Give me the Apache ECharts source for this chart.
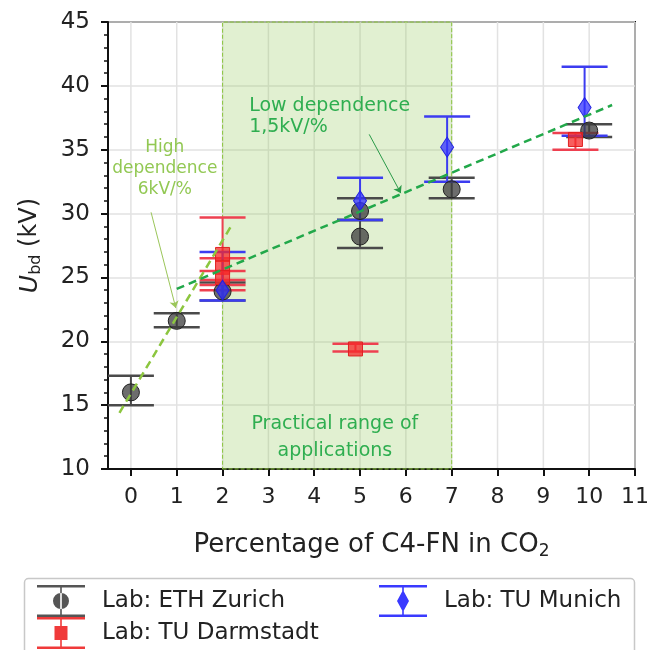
<!DOCTYPE html>
<html>
<head>
<meta charset="utf-8">
<script src="https://cdn.jsdelivr.net/npm/echarts@6/dist/echarts.min.js"></script>
<style>
	html,body{margin:0;padding:0;background:#fff;}
	#main{width:652px;height:650px;}
</style>
</head>
<body>
<div id="main"></div>
<script>
// x ticks
var xTicks = [0, 1, 2, 3, 4, 5, 6, 7, 8, 9, 10, 11];

// ETH Zurich: x, value, lower end, upper end of error bar
var ethX  = [0, 1, 2, 5, 5, 7, 10];
var ethY  = [16.0, 21.6, 23.9, 30.2, 28.2, 31.9, 36.5];
var ethLo = [15.0, 21.1, 23.2, 29.5, 27.3, 31.2, 36.0];
var ethHi = [17.3, 22.2, 24.6, 31.2, 29.5, 32.8, 37.0];

// TU Darmstadt
var darmX  = [2, 2, 2, 4.9, 9.7];
var darmY  = [26.8, 25.8, 25.0, 19.4, 35.8];
var darmLo = [24.8, 24.4, 24.0, 19.2, 35.0];
var darmHi = [29.7, 26.5, 25.5, 19.8, 36.3];

// TU Munich
var munX  = [2, 5, 6.9, 9.9];
var munY  = [24.0, 31.0, 35.2, 38.3];
var munLo = [23.2, 29.5, 32.5, 36.1];
var munHi = [27.0, 32.8, 37.6, 41.5];

// fitted lines
var highFitX = [-0.25, 2.2];
var highFitY = [14.4, 29.1];
var lowFitX  = [1.0, 10.5];
var lowFitY  = [24.1, 38.5];

// practical range
var rangeX = [2, 7];

var FONT = '"DejaVu Sans", sans-serif';

function pts(xs, ys){
	var out = [];
	for (var i = 0; i < xs.length; i++) out.push([xs[i], ys[i]]);
	return out;
}
function bars(xs, lo, hi){
	var out = [];
	for (var i = 0; i < xs.length; i++) out.push([xs[i], lo[i], hi[i]]);
	return out;
}

// error bar drawing (vertical stem + two caps)
function errRender(color){
	return function(params, api){
		var x = api.value(0);
		var pLo = api.coord([x, api.value(1)]);
		var pHi = api.coord([x, api.value(2)]);
		var w = 23;
		var st = {stroke: color, lineWidth: 2.5};
		return {
			type: 'group',
			children: [
				{type: 'line', shape: {x1: pLo[0], y1: pLo[1], x2: pHi[0], y2: pHi[1]}, style: {stroke: color, lineWidth: 2}},
				{type: 'line', shape: {x1: pHi[0] - w, y1: pHi[1], x2: pHi[0] + w, y2: pHi[1]}, style: st},
				{type: 'line', shape: {x1: pLo[0] - w, y1: pLo[1], x2: pLo[0] + w, y2: pLo[1]}, style: st}
			]
		};
	};
}

// vertical grid lines at the x ticks
function gridRender(params, api){
	var top = api.coord([api.value(0), 45]);
	var bot = api.coord([api.value(0), 10]);
	return {type: 'line', shape: {x1: top[0], y1: top[1], x2: bot[0], y2: bot[1]}, style: {stroke: '#e2e2e2', lineWidth: 1.5}};
}

var capPath = 'M0,0H48V2.5H0Z M0,29.5H48V32H0Z M23.2,0H24.8V32H23.2Z ';
var iconEth = 'path://' + capPath + 'M16,16A8,8 0 1,0 32,16A8,8 0 1,0 16,16Z';
var iconDarm = 'path://' + capPath + 'M17.5,9H30.5V23H17.5Z';
var iconMun = 'path://' + capPath + 'M24,5L30,16L24,27L18,16Z';

var ETH = 'Lab: ETH Zurich', DARM = 'Lab: TU Darmstadt', MUN = 'Lab: TU Munich';

function legendOne(name, icon, color, left, top){
	return {
		left: left, top: top, itemWidth: 48, itemHeight: 32, selectedMode: false,
		textStyle: {fontSize: 23, color: '#222', fontFamily: FONT, padding: [0, 0, 0, 12]},
		data: [{name: name, icon: icon, itemStyle: {color: color}}]
	};
}

var myChart = echarts.init(document.getElementById('main'));
myChart.setOption({
	animation: false,
	backgroundColor: '#fff',
	grid: {left: 108, right: 16, top: 22, bottom: 181, show: true, borderColor: '#111', borderWidth: 2, backgroundColor: 'transparent'},
	legend: [
		legendOne(ETH, iconEth, '#555', 32, 580),
		legendOne(DARM, iconDarm, '#f03a3a', 32, 612),
		legendOne(MUN, iconMun, '#3a3aff', 374, 580)
	],
	graphic: [{
		type: 'rect', left: 22, top: 576, shape: {width: 610, height: 90, r: 4},
		style: {fill: 'none', stroke: '#c8c8c8', lineWidth: 1.5}, silent: true
	}],
	xAxis: {
		type: 'value', min: -0.5, max: 11,
		name: 'Percentage of C4-FN in CO{s|2}', nameLocation: 'middle', nameGap: 61,
		nameTextStyle: {fontSize: 26, color: '#222', fontFamily: FONT,
			rich: {s: {fontSize: 17, color: '#222', fontFamily: FONT, verticalAlign: 'bottom', padding: [13, 0, 0, 0]}}},
		axisLine: {show: true, onZero: false, lineStyle: {color: '#111', width: 2}},
		axisTick: {show: true, length: 7, lineStyle: {color: '#111', width: 2}, customValues: xTicks},
		axisLabel: {fontSize: 22, color: '#222', fontFamily: FONT, margin: 17, customValues: xTicks},
		splitLine: {show: false}
	},
	yAxis: {
		type: 'value', min: 10, max: 45, interval: 5,
		name: '{u|U}{s|bd} (kV)', nameLocation: 'middle', nameGap: 64, nameRotate: 90,
		nameTextStyle: {fontSize: 24, color: '#222', fontFamily: FONT,
			rich: {
				u: {fontSize: 25, fontStyle: 'italic', color: '#222', fontFamily: FONT},
				s: {fontSize: 16, color: '#222', fontFamily: FONT, verticalAlign: 'bottom', padding: [12, 0, 0, 0]}
			}},
		axisLine: {show: true, onZero: false, lineStyle: {color: '#111', width: 2}},
		axisTick: {show: true, length: 7, lineStyle: {color: '#111', width: 2}},
		minorTick: {show: true, splitNumber: 5, length: 4, lineStyle: {color: '#111', width: 1.5}},
		axisLabel: {fontSize: 23, color: '#222', fontFamily: FONT, margin: 18},
		splitLine: {show: true, lineStyle: {color: '#e2e2e2', width: 1.5}}
	},
	series: [
		{type: 'custom', renderItem: gridRender, data: xTicks.map(function(v){ return [v]; }), z: 0, silent: true},
		{
			// practical range shading
			type: 'line', data: [], z: 1, silent: true,
			markArea: {
				silent: true,
				itemStyle: {color: 'rgba(146,200,90,0.28)', borderColor: '#8cc63f', borderWidth: 1, borderType: 'dashed'},
				data: [[{xAxis: rangeX[0]}, {xAxis: rangeX[1]}]]
			}
		},
		{
			// notes and arrows
			type: 'line', data: [], z: 6, silent: true,
			markLine: {
				silent: true, symbol: ['none', 'arrow'], symbolSize: 7, label: {show: false},
				data: [
					[{coord: [0.44, 30.1], lineStyle: {color: '#9bc65a', width: 1, type: 'solid'}}, {coord: [0.98, 22.6]}],
					[{coord: [5.2, 36.2], lineStyle: {color: '#2a9a48', width: 1, type: 'solid'}}, {coord: [5.89, 31.6]}]
				]
			},
			markPoint: {
				silent: true, symbol: 'circle', symbolSize: 0,
				data: [
					{coord: [0.74, 33.5], label: {show: true, formatter: 'High\ndependence\n6kV/%', color: '#92c853', fontSize: 17, lineHeight: 21, align: 'center', fontFamily: FONT}},
					{coord: [2.58, 37.6], label: {show: true, formatter: 'Low dependence\n1,5kV/%', color: '#2fae50', fontSize: 19, lineHeight: 21, align: 'left', fontFamily: FONT}},
					{coord: [4.45, 12.5], label: {show: true, formatter: 'Practical range of\napplications', color: '#2fae50', fontSize: 19, lineHeight: 27, align: 'center', fontFamily: FONT}}
				]
			}
		},
		{type: 'custom', name: ETH, renderItem: errRender('#4a4a4a'), data: bars(ethX, ethLo, ethHi), z: 3, silent: true},
		{type: 'custom', name: DARM, renderItem: errRender('#ee4050'), data: bars(darmX, darmLo, darmHi), z: 3, silent: true},
		{type: 'custom', name: MUN, renderItem: errRender('#3c3cf0'), data: bars(munX, munLo, munHi), z: 3, silent: true},
		{type: 'scatter', name: ETH, data: pts(ethX, ethY), symbol: 'circle', symbolSize: 17, z: 4,
			itemStyle: {color: 'rgba(60,60,60,0.75)', borderColor: '#222', borderWidth: 1, opacity: 1}},
		{type: 'scatter', name: DARM, data: pts(darmX, darmY), symbol: 'rect', symbolSize: 14, z: 4,
			itemStyle: {color: 'rgba(245,40,40,0.75)', borderColor: '#e02020', borderWidth: 1, opacity: 1}},
		{type: 'scatter', name: MUN, data: pts(munX, munY), symbol: 'diamond', symbolSize: [13, 20], z: 4,
			itemStyle: {color: 'rgba(50,50,255,0.75)', borderColor: '#2020e0', borderWidth: 1, opacity: 1}},
		{type: 'line', data: pts(highFitX, highFitY), showSymbol: false, z: 5, silent: true,
			lineStyle: {color: '#8cc63f', width: 2.5, type: [8, 5]}},
		{type: 'line', data: pts(lowFitX, lowFitY), showSymbol: false, z: 5, silent: true,
			lineStyle: {color: '#22a84a', width: 2.5, type: [8, 5]}}
	]
});
</script>
</body>
</html>
